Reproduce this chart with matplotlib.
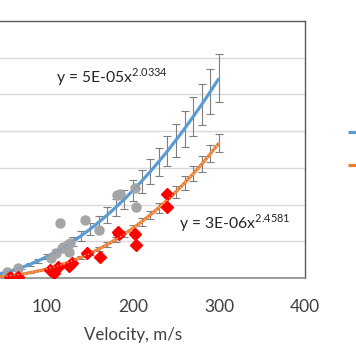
import matplotlib
matplotlib.use('Agg')
import matplotlib.pyplot as plt
import numpy as np

plt.rcParams['font.family'] = ['Lato', 'DejaVu Sans']

gray_v = [53, 66, 105, 111, 115, 117, 123, 125, 127, 144, 161, 181, 185, 202, 203]
gray_y = [0.16, 0.27, 0.55, 0.68, 1.50, 0.82, 0.90, 0.71, 0.95, 1.58, 1.30, 2.26, 2.28, 2.45, 1.94]

red_v = [57, 66, 104, 108, 113, 125, 129, 146, 162, 182, 184, 202, 203, 239, 239]
red_y = [0.03, 0.03, 0.22, 0.13, 0.30, 0.33, 0.41, 0.67, 0.57, 1.25, 1.20, 1.20, 0.90, 2.28, 1.93]

# model curves
model_v = [10, 20, 30, 40, 50, 60, 70, 80, 90, 100, 110, 120, 130, 140, 150,
           160, 170, 180, 190, 200, 210, 220, 230, 240, 250, 260, 270, 280, 290, 300]
blue_y = [0.005, 0.022, 0.050, 0.091, 0.143, 0.207, 0.282, 0.370, 0.471, 0.583,
          0.708, 0.845, 0.994, 1.155, 1.330, 1.516, 1.715, 1.926, 2.150, 2.386,
          2.635, 2.897, 3.171, 3.457, 3.757, 4.068, 4.393, 4.730, 5.079, 5.440]
orange_y = [0.001, 0.005, 0.013, 0.026, 0.045, 0.071, 0.103, 0.143, 0.191, 0.247,
            0.313, 0.387, 0.471, 0.565, 0.670, 0.785, 0.911, 1.049, 1.198, 1.358,
            1.531, 1.717, 1.915, 2.126, 2.351, 2.589, 2.840, 3.105, 3.384, 3.678]
blue_err_frac = 0.12
orange_err_frac = 0.07

x_ticks = [100, 200, 300, 400]
eq_blue = r'y = 5E-05x$^{\mathregular{2.0334}}$'
eq_orange = r'y = 3E-06x$^{\mathregular{2.4581}}$'

fig = plt.figure(figsize=(3.56, 3.64), dpi=100)
ax = fig.add_axes([-39 / 356, 86 / 364, 344 / 356, 257 / 364])

blue_y = np.array(blue_y)
orange_y = np.array(orange_y)

ax.errorbar(model_v, blue_y, yerr=blue_y * blue_err_frac, fmt='none',
            ecolor='#7f7f7f', elinewidth=0.8, capsize=3, capthick=0.8, zorder=2)
ax.errorbar(model_v, orange_y, yerr=orange_y * orange_err_frac, fmt='none',
            ecolor='#7f7f7f', elinewidth=0.8, capsize=3, capthick=0.8, zorder=2)
l1, = ax.plot(model_v, blue_y, color='#5B9BD5', linewidth=2.3, zorder=3,
              solid_capstyle='butt')
l2, = ax.plot(model_v, orange_y, color='#ED7D31', linewidth=2.3, zorder=3,
              solid_capstyle='butt')

ax.plot(gray_v, gray_y, 'o', color='#A5A5A5', markersize=6.5, zorder=4)
ax.plot(red_v, red_y, 'D', color='#FF0000', markersize=6.3, zorder=4)

# thin dotted trend lines over markers
ax.plot(model_v, blue_y, ':', color='#5B9BD5', linewidth=1, zorder=5)
ax.plot(model_v, orange_y, ':', color='#F4B183', linewidth=1, zorder=5)

ax.text(110, 5.48, eq_blue, fontsize=11.3, color='#262626', va='center', ha='left')
ax.text(254, 1.5, eq_orange, fontsize=11.3, color='#262626', va='center', ha='left')

ax.set_xlim(0, 400)
ax.set_ylim(0, 7)
ax.set_xticks(x_ticks)
ax.set_yticks(range(0, 8))
ax.set_yticklabels([])
ax.tick_params(axis='both', length=0, labelsize=12.5, labelcolor='#404040', pad=15)
ax.grid(True, axis='y', color='#D9D9D9', linewidth=1)
ax.set_axisbelow(True)
for s in ['top', 'right']:
    ax.spines[s].set_color('#595959')
    ax.spines[s].set_linewidth(1)
ax.spines['bottom'].set_color('#8c8c8c')
ax.spines['bottom'].set_linewidth(1.2)
ax.spines['left'].set_visible(False)
ax.set_xlabel('Velocity, m/s', fontsize=12.2, color='#404040', labelpad=9)

fig.legend([l1, l2], ['Model 1', 'Model 2'], loc='upper left',
           bbox_to_anchor=(335 / 356, 1 - 114 / 364), frameon=False,
           labelspacing=1.52, handlelength=2, fontsize=10)

fig.savefig('out.png', dpi=100)
